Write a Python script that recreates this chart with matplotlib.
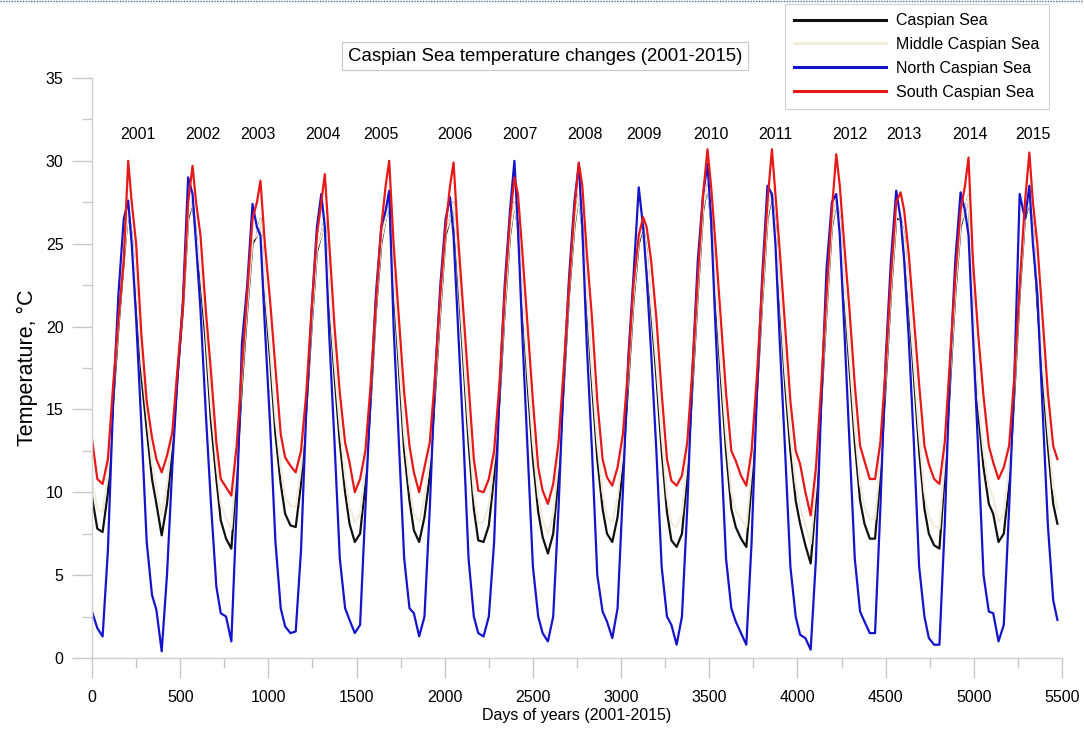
import numpy as np
import matplotlib
matplotlib.use("Agg")
import matplotlib.pyplot as plt
from matplotlib.lines import Line2D

plt.rcParams['font.family'] = ['Liberation Sans', 'DejaVu Sans']

# sampling days inside each year (day of year)
year_days = [0, 30, 60, 90, 120, 150, 180, 205, 225, 250, 280, 310, 340]
years = list(range(2001, 2016))

# South Caspian Sea, one row per year
south = [
    [13.2, 10.8, 10.5, 12.0, 16.5, 20.5, 24.0, 30.0, 27.5, 25.0, 19.5, 15.5, 13.3],
    [12.0, 11.2, 12.2, 13.6, 17.5, 21.2, 27.5, 29.7, 27.5, 25.5, 21.0, 17.2, 13.0],
    [10.8, 10.3, 9.8, 12.8, 17.5, 22.0, 26.5, 27.5, 28.8, 25.0, 21.5, 17.5, 13.5],
    [12.1, 11.6, 11.2, 12.5, 16.0, 21.0, 25.5, 27.5, 29.2, 25.0, 20.0, 16.0, 13.0],
    [11.8, 10.0, 10.8, 12.5, 16.5, 21.5, 26.0, 28.5, 30.0, 25.0, 20.5, 16.0, 12.8],
    [11.2, 10.0, 11.5, 13.0, 17.0, 22.0, 26.0, 28.5, 29.9, 25.5, 21.0, 16.5, 12.0],
    [10.1, 10.0, 10.8, 12.5, 16.5, 22.0, 26.5, 29.0, 28.0, 24.5, 20.0, 15.5, 11.5],
    [10.1, 9.3, 10.5, 13.0, 17.5, 22.5, 27.0, 29.9, 28.5, 24.5, 20.5, 15.5, 12.0],
    [10.9, 10.4, 11.5, 13.5, 17.5, 22.5, 25.5, 26.6, 26.0, 24.0, 20.5, 16.0, 12.0],
    [10.7, 10.4, 11.0, 13.0, 17.5, 23.0, 28.0, 30.7, 28.5, 25.0, 20.5, 16.0, 12.5],
    [11.9, 11.0, 10.4, 12.5, 17.0, 22.5, 27.5, 30.7, 28.0, 24.5, 20.0, 15.5, 12.5],
    [11.7, 10.0, 8.6, 11.5, 16.5, 22.0, 27.0, 30.4, 28.5, 25.0, 21.0, 16.5, 12.8],
    [11.9, 10.8, 10.8, 13.0, 17.5, 23.0, 27.5, 28.1, 27.0, 24.5, 20.5, 16.5, 12.8],
    [11.7, 10.8, 10.5, 13.0, 18.0, 23.0, 27.0, 28.5, 30.2, 24.0, 19.5, 15.8, 12.8],
    [11.8, 10.8, 11.5, 12.8, 17.0, 22.5, 27.5, 30.5, 27.5, 25.0, 20.5, 16.0, 12.8],
]
south_end = 12.0

# whole Caspian Sea
caspian = [
    [9.7, 7.8, 7.6, 10.0, 15.5, 20.0, 24.0, 27.0, 25.5, 22.0, 17.0, 13.8, 10.8],
    [9.3, 7.4, 9.3, 12.5, 17.0, 21.0, 26.5, 27.5, 25.5, 22.8, 19.0, 14.2, 10.8],
    [8.3, 7.2, 6.6, 11.0, 16.5, 21.0, 25.0, 25.5, 26.5, 22.0, 18.0, 13.5, 10.5],
    [8.7, 8.0, 7.9, 10.5, 15.0, 20.0, 24.5, 25.5, 26.5, 21.5, 17.0, 13.0, 10.0],
    [8.1, 7.0, 7.5, 10.5, 15.5, 21.0, 25.0, 26.5, 27.5, 22.5, 17.5, 12.5, 9.5],
    [7.7, 7.0, 8.5, 11.0, 16.0, 21.0, 25.5, 26.5, 27.5, 23.0, 18.0, 13.0, 9.0],
    [7.1, 7.0, 8.0, 11.0, 15.5, 21.0, 25.5, 27.5, 26.0, 21.5, 16.5, 12.0, 8.8],
    [7.3, 6.3, 7.5, 11.0, 16.5, 22.0, 26.0, 28.0, 26.0, 21.5, 16.5, 12.0, 9.0],
    [7.5, 7.0, 8.5, 11.5, 16.5, 21.5, 25.0, 26.0, 24.5, 21.0, 17.0, 12.5, 8.8],
    [7.1, 6.7, 7.5, 11.0, 16.5, 22.0, 27.0, 28.5, 26.5, 22.0, 17.0, 12.5, 9.0],
    [7.9, 7.2, 6.7, 10.5, 16.0, 21.5, 26.5, 28.0, 26.0, 21.5, 16.5, 12.5, 9.5],
    [8.1, 6.8, 5.7, 9.5, 15.5, 21.0, 26.0, 27.5, 26.5, 22.0, 17.5, 13.0, 9.5],
    [8.1, 7.2, 7.2, 11.0, 16.5, 22.0, 26.5, 26.5, 25.5, 21.5, 17.0, 12.5, 9.0],
    [7.5, 6.8, 6.6, 11.0, 16.5, 22.0, 26.0, 27.0, 27.9, 20.5, 14.8, 11.5, 9.3],
    [8.7, 7.0, 7.5, 10.5, 16.0, 22.0, 26.5, 27.5, 26.0, 21.5, 17.0, 12.8, 9.3],
]
caspian_end = 8.1

# Middle Caspian Sea
middle = [
    [10.7, 9.0, 8.8, 11.0, 16.0, 20.3, 24.2, 27.0, 25.5, 22.5, 17.8, 14.8, 11.8],
    [10.3, 8.6, 10.5, 13.5, 17.5, 21.3, 26.7, 27.5, 25.5, 23.3, 19.8, 15.2, 11.8],
    [9.3, 8.4, 7.8, 12.0, 17.0, 21.3, 25.2, 25.5, 26.5, 22.5, 18.8, 14.5, 11.5],
    [9.7, 9.2, 9.1, 11.5, 15.5, 20.3, 24.7, 25.5, 26.5, 22.0, 17.8, 14.0, 11.0],
    [9.1, 8.2, 8.7, 11.5, 16.0, 21.3, 25.2, 26.5, 27.5, 23.0, 18.3, 13.5, 10.5],
    [8.7, 8.2, 9.7, 12.0, 16.5, 21.3, 25.7, 26.5, 27.5, 23.5, 18.8, 14.0, 10.0],
    [8.1, 8.2, 9.2, 12.0, 16.0, 21.3, 25.7, 27.5, 26.0, 22.0, 17.3, 13.0, 9.8],
    [8.3, 7.5, 8.7, 12.0, 17.0, 22.3, 26.2, 28.0, 26.0, 22.0, 17.3, 13.0, 10.0],
    [8.5, 8.2, 9.7, 12.5, 17.0, 21.8, 25.2, 26.0, 24.5, 21.5, 17.8, 13.5, 9.8],
    [8.1, 7.9, 8.7, 12.0, 17.0, 22.3, 27.2, 28.5, 26.5, 22.5, 17.8, 13.5, 10.0],
    [8.9, 8.4, 7.9, 11.5, 16.5, 21.8, 26.7, 28.0, 26.0, 22.0, 17.3, 13.5, 10.5],
    [9.1, 8.0, 6.9, 10.5, 16.0, 21.3, 26.2, 27.5, 26.5, 22.5, 18.3, 14.0, 10.5],
    [9.1, 8.4, 8.4, 12.0, 17.0, 22.3, 26.7, 26.5, 25.5, 22.0, 17.8, 13.5, 10.0],
    [8.5, 8.0, 7.8, 12.0, 17.0, 22.3, 26.2, 27.0, 27.9, 21.0, 15.6, 12.5, 10.3],
    [9.7, 8.2, 8.7, 11.5, 16.5, 22.3, 26.7, 27.5, 26.0, 22.0, 17.8, 13.8, 10.3],
]
middle_end = 9.0

# North Caspian Sea
north = [
    [2.8, 1.8, 1.3, 6.5, 15.5, 22.0, 26.5, 27.6, 25.0, 20.5, 14.0, 7.0, 3.8],
    [2.9, 0.4, 5.0, 11.5, 17.0, 21.5, 29.0, 28.0, 25.0, 21.0, 14.8, 9.2, 4.3],
    [2.7, 2.5, 1.0, 9.0, 19.0, 22.5, 27.4, 26.0, 25.5, 20.0, 14.0, 7.0, 3.0],
    [1.9, 1.5, 1.6, 6.5, 15.0, 21.0, 26.0, 28.0, 26.0, 19.5, 13.0, 6.0, 3.0],
    [2.3, 1.5, 2.0, 9.0, 16.0, 22.0, 26.0, 27.0, 28.2, 20.0, 13.0, 6.0, 3.0],
    [2.7, 1.3, 2.5, 9.0, 17.0, 22.5, 26.5, 27.8, 25.5, 20.0, 13.5, 6.0, 2.5],
    [1.5, 1.3, 2.5, 7.0, 16.0, 22.5, 27.0, 30.0, 26.0, 19.5, 12.5, 5.5, 2.5],
    [1.5, 1.0, 2.5, 9.0, 17.0, 23.0, 27.5, 29.8, 26.0, 19.0, 12.5, 5.0, 2.8],
    [2.2, 1.2, 3.0, 10.0, 18.0, 23.0, 28.4, 26.0, 23.0, 18.5, 12.5, 5.5, 2.5],
    [2.0, 0.8, 2.5, 9.0, 17.5, 24.0, 28.0, 29.8, 26.5, 20.0, 13.0, 6.0, 3.0],
    [2.2, 1.5, 0.8, 7.0, 16.0, 23.0, 28.5, 28.0, 25.0, 19.0, 12.5, 5.5, 2.5],
    [1.4, 1.2, 0.5, 6.0, 15.5, 23.5, 27.5, 28.0, 25.5, 20.0, 13.0, 6.0, 2.8],
    [2.2, 1.5, 1.5, 9.0, 18.0, 24.0, 28.2, 26.5, 24.0, 19.5, 13.0, 5.5, 2.5],
    [1.2, 0.8, 0.8, 8.0, 17.5, 24.0, 28.1, 27.0, 25.5, 19.5, 12.5, 5.0, 2.8],
    [2.7, 1.0, 2.0, 9.0, 17.0, 28.0, 26.5, 28.5, 25.0, 22.0, 15.0, 8.0, 3.5],
]
north_end = 2.3

# year labels above the peaks
year_label_x = [262, 630, 939, 1311, 1637, 2060, 2428, 2793, 3127, 3507,
                3875, 4295, 4601, 4980, 5337]
year_label_y = 31.6

last_day = 5474


def build_series(rows, end_value):
    x, y = [], []
    for k, row in enumerate(rows):
        for d, v in zip(year_days, row):
            x.append(k * 365 + d)
            y.append(v)
    x.append(last_day)
    y.append(end_value)
    return np.array(x), np.array(y)


fig = plt.figure(figsize=(10.84, 7.31), dpi=100)
ax = fig.add_axes([0.0849, 0.0999, 0.8948, 0.7934])

series = [
    ("Caspian Sea", caspian, caspian_end, "#111111"),
    ("Middle Caspian Sea", middle, middle_end, "#f2ecdc"),
    ("North Caspian Sea", north, north_end, "#1414cc"),
    ("South Caspian Sea", south, south_end, "#e81818"),
]

for name, rows, end_value, color in series:
    x, y = build_series(rows, end_value)
    ax.plot(x, y, color=color, lw=1.6, label=name)

for yr, xx in zip(years, year_label_x):
    ax.text(xx, year_label_y, str(yr), ha="center", va="center", fontsize=11.5)

ax.set_xlim(0, 5500)
ax.set_ylim(0, 35)
ax.set_xticks(np.arange(0, 5501, 500))
ax.set_xticks(np.arange(250, 5500, 500), minor=True)
ax.set_yticks(np.arange(0, 36, 5))
ax.set_yticks(np.arange(2.5, 35, 5), minor=True)

for side in ["top", "right"]:
    ax.spines[side].set_visible(False)
for side in ["left", "bottom"]:
    ax.spines[side].set_color("#cfcfcf")
    ax.spines[side].set_linewidth(1.0)

ax.tick_params(which="major", length=14.4, width=1.0, color="#c8c8c8",
               labelsize=11.5)
ax.tick_params(which="minor", length=7.2, width=1.0, color="#c8c8c8")
ax.tick_params(axis="x", which="major", pad=9)
ax.tick_params(axis="y", which="major", pad=6)

ax.set_xlabel("Days of years (2001-2015)", fontsize=11.5, labelpad=2)
ax.set_ylabel("Temperature, °C", fontsize=15.5, labelpad=6)

fig.text(0.503, 0.923, "Caspian Sea temperature changes (2001-2015)",
         ha="center", va="center", fontsize=13.4,
         bbox=dict(boxstyle="square,pad=0.3", fc="white", ec="#c8c8c8", lw=0.8))

leg = fig.legend(loc="upper left", bbox_to_anchor=(0.724, 0.995), fontsize=11.5,
                 frameon=True, fancybox=False, handlelength=5.75,
                 handletextpad=0.6, labelspacing=0.55, borderpad=0.6,
                 borderaxespad=0)
leg.get_frame().set_edgecolor("#c8c8c8")
leg.get_frame().set_linewidth(0.8)
for h in leg.legend_handles:
    h.set_linewidth(2.2)

# dotted frame line at the very top
fig.add_artist(Line2D([0, 1], [0.998, 0.998], transform=fig.transFigure,
                      color="#4a6f80", lw=1.0, ls=(0, (1, 1))))

fig.savefig("out.png", dpi=100)
